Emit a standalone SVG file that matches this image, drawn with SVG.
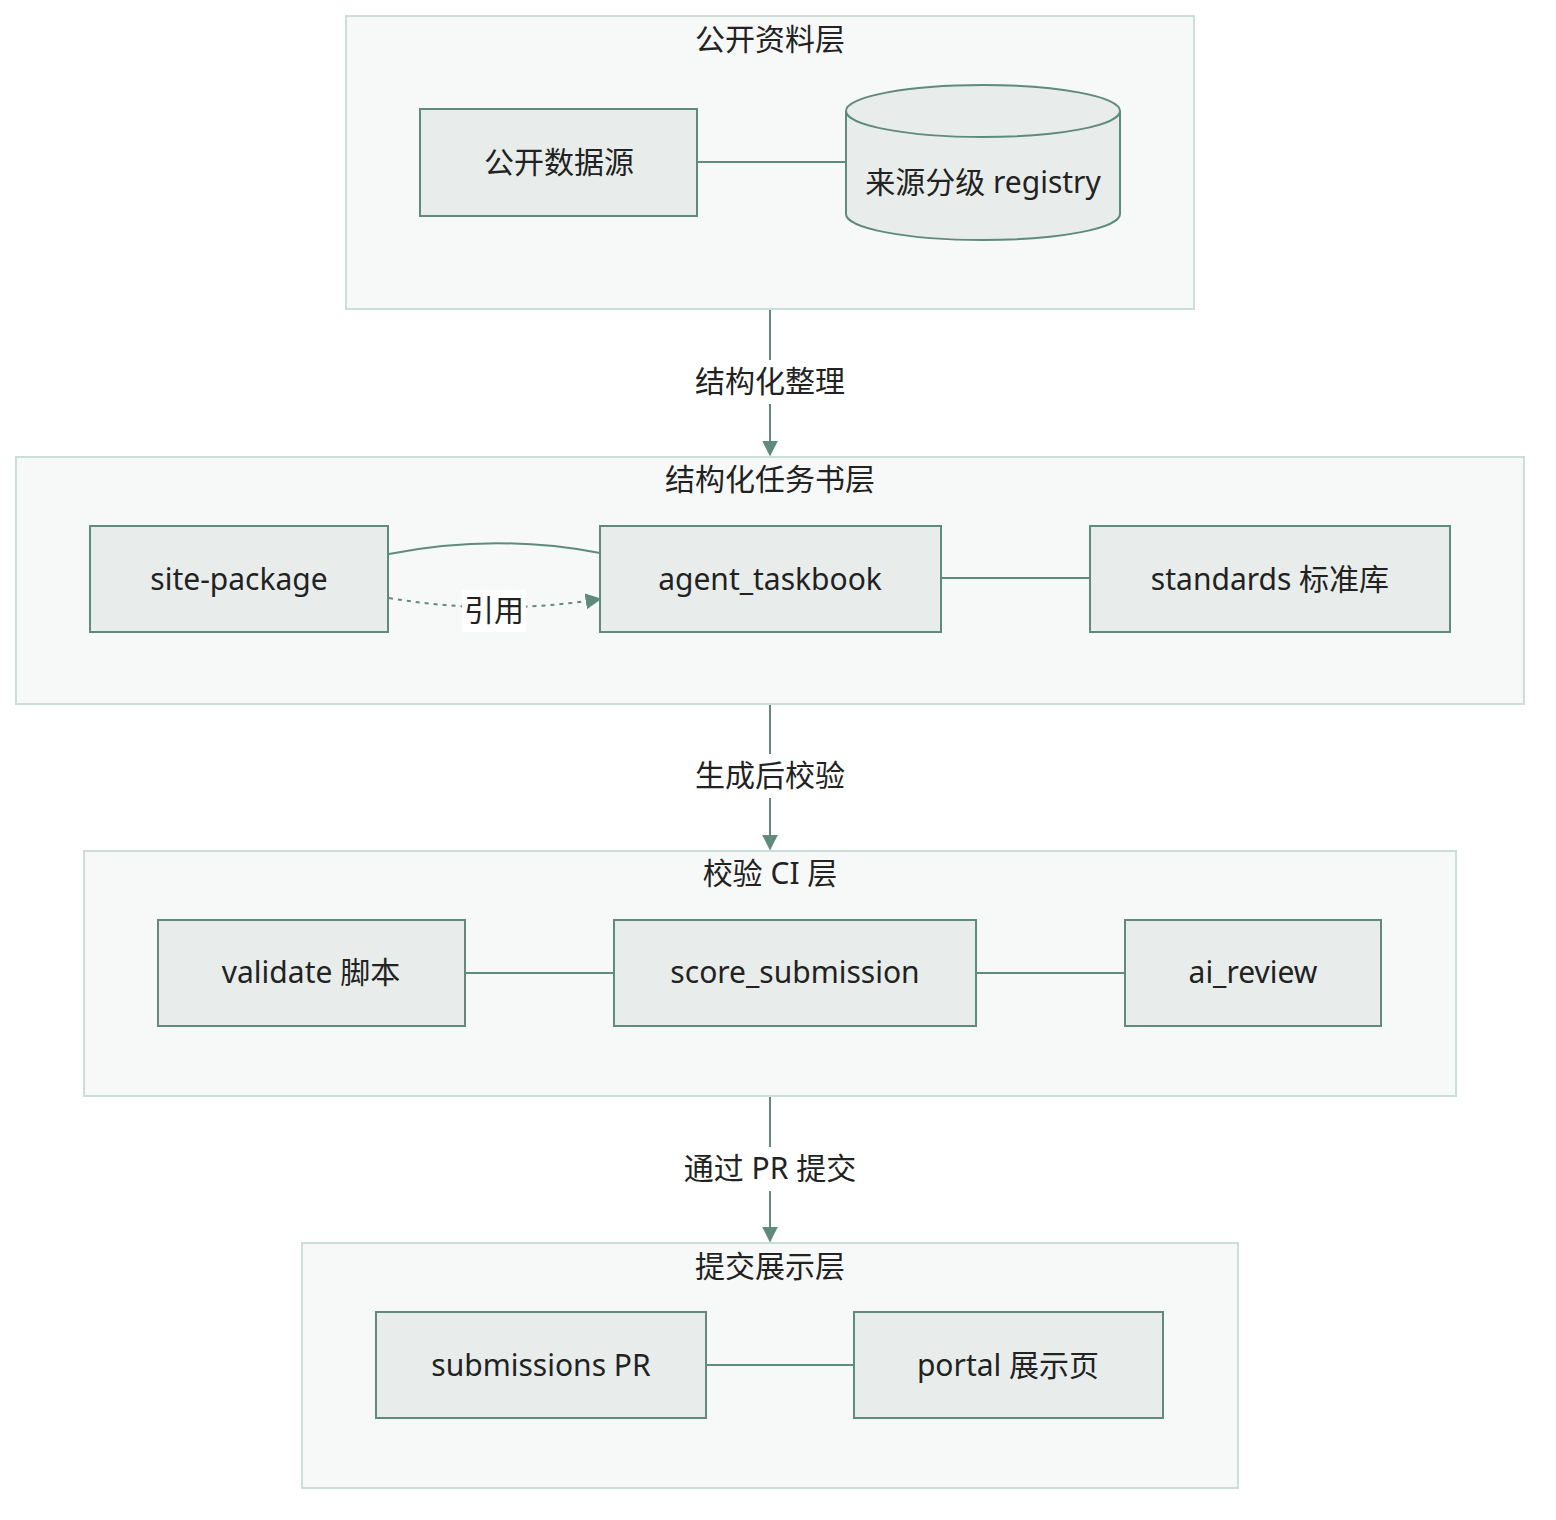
<svg xmlns="http://www.w3.org/2000/svg" width="1556" height="1520" viewBox="0 0 1556 1520">
<style>
text{font-family:"Noto Sans","Noto Sans CJK SC",sans-serif;fill:#222;text-anchor:middle;dominant-baseline:central}
.c{fill:#f7f9f8;stroke:#cbded7;stroke-width:2}
.n{fill:#e8edeb;stroke:#5f8a7c;stroke-width:2}
.l{fill:none;stroke:#5f8a7c;stroke-width:2}
.t{font-size:30px}
.h{font-size:30px}
</style>
<defs><marker id="a" viewBox="0 0 10 10" refX="9" refY="5" markerWidth="8" markerHeight="8" orient="auto" markerUnits="userSpaceOnUse"><path d="M0 0L10 5L0 10z" fill="#5f8a7c"/></marker>
<marker id="b" viewBox="0 0 10 10" refX="9" refY="5" markerWidth="16" markerHeight="16" orient="auto" markerUnits="userSpaceOnUse"><path d="M0 0L10 5L0 10z" fill="#5f8a7c"/></marker></defs>
<g id="c1"><rect class="c" x="346" y="16" width="848" height="293"/><text class="h" x="770" y="38">公开资料层</text></g>
<g id="c2"><rect class="c" x="16" y="457" width="1508" height="247"/><text class="h" x="770" y="478">结构化任务书层</text></g>
<g id="c3"><rect class="c" x="84" y="851" width="1372" height="245"/><text class="h" x="770" y="872">校验 CI 层</text></g>
<g id="c4"><rect class="c" x="302" y="1243" width="936" height="245"/><text class="h" x="770" y="1265">提交展示层</text></g>
<g id="edges">
<path class="l" d="M697 162H846"/>
<path class="l" d="M389 554Q495 533 600 553"/>
<path class="l" d="M389 598Q495 616 600 599" stroke-dasharray="4 5" marker-end="url(#b)"/>
<rect x="462" y="590" width="64" height="42" fill="#fff"/><text class="t" x="494" y="609">引用</text>
<path class="l" d="M942 578H1090"/>
<path class="l" d="M466 973H614"/>
<path class="l" d="M977 973H1125"/>
<path class="l" d="M706 1365H854"/>
<path class="l" d="M770 310V455" marker-end="url(#b)"/>
<rect x="688" y="360" width="164" height="42" fill="#f7f9f8" opacity="0"/>
<rect x="690" y="360" width="160" height="44" fill="#fff"/><text class="t" x="770" y="380">结构化整理</text>
<path class="l" d="M770 705V849" marker-end="url(#b)"/>
<rect x="690" y="754" width="160" height="44" fill="#fff"/><text class="t" x="770" y="774">生成后校验</text>
<path class="l" d="M770 1097V1241" marker-end="url(#b)"/>
<rect x="678" y="1147" width="184" height="44" fill="#fff"/><text class="t" x="770" y="1167">通过 PR 提交</text>
</g>
<g id="n1"><rect class="n" x="420" y="109" width="277" height="107"/><text class="t" x="559" y="161">公开数据源</text></g>
<g id="n2"><path class="n" d="M846 111A137 26 0 0 1 1120 111V214A137 26 0 0 1 846 214Z"/><path class="l" d="M846 111A137 26 0 0 0 1120 111"/><text class="t" x="983" y="181">来源分级 registry</text></g>
<g id="n3"><rect class="n" x="90" y="526" width="298" height="106"/><text class="t" x="239" y="578">site-package</text></g>
<g id="n4"><rect class="n" x="600" y="526" width="341" height="106"/><text class="t" x="770" y="578">agent_taskbook</text></g>
<g id="n5"><rect class="n" x="1090" y="526" width="360" height="106"/><text class="t" x="1270" y="578">standards 标准库</text></g>
<g id="n6"><rect class="n" x="158" y="920" width="307" height="106"/><text class="t" x="311" y="971">validate 脚本</text></g>
<g id="n7"><rect class="n" x="614" y="920" width="362" height="106"/><text class="t" x="795" y="971">score_submission</text></g>
<g id="n8"><rect class="n" x="1125" y="920" width="256" height="106"/><text class="t" x="1253" y="971">ai_review</text></g>
<g id="n9"><rect class="n" x="376" y="1312" width="330" height="106"/><text class="t" x="541" y="1364">submissions PR</text></g>
<g id="n10"><rect class="n" x="854" y="1312" width="309" height="106"/><text class="t" x="1008" y="1364">portal 展示页</text></g>
</svg>
